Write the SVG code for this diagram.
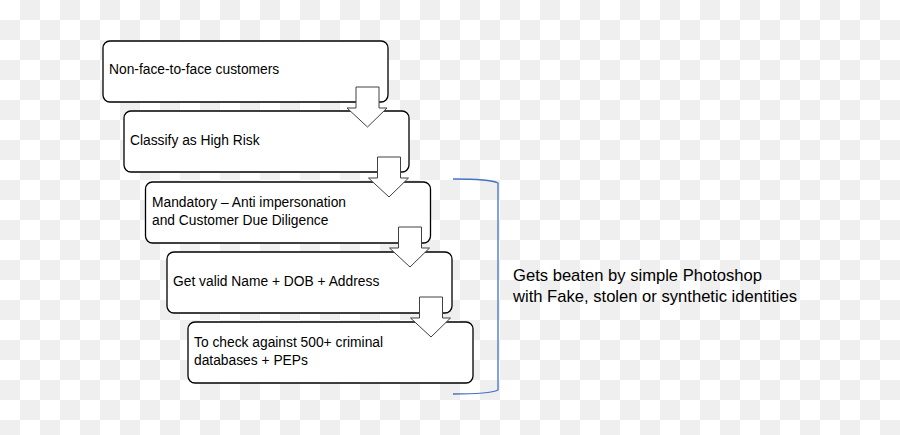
<svg xmlns="http://www.w3.org/2000/svg" width="900" height="435" viewBox="0 0 900 435">
  <defs>
    <pattern id="checker" x="0" y="0" width="40" height="40" patternUnits="userSpaceOnUse">
      <rect x="0" y="0" width="40" height="40" fill="#ffffff"/>
      <rect x="20" y="0" width="20" height="20" fill="#efefef"/>
      <rect x="0" y="20" width="20" height="20" fill="#efefef"/>
    </pattern>
    <style>
      .box { fill: #ffffff; stroke: #000000; stroke-width: 1.3; }
      .lbl { font-family: "Liberation Sans", Arial, sans-serif; font-size: 13.8px; fill: #000000; }
      .note { font-family: "Liberation Sans", Arial, sans-serif; font-size: 16.6px; fill: #000000; }
      .arrow { fill: #ffffff; stroke: #404040; stroke-width: 1; stroke-linejoin: miter; }
      .bracket { fill: none; stroke: #4472C4; stroke-width: 1.3; }
    </style>
    <path id="blockArrow" d="M0,0 H23 V21 H31 L11.5,40 L-9,21 H0 Z"/>
  </defs>

  <rect x="0" y="0" width="900" height="435" fill="url(#checker)"/>

  <g id="node-non-face">
    <rect class="box" x="103" y="41" width="285" height="61" rx="7"/>
    <text class="lbl" x="109" y="74">Non-face-to-face customers</text>
  </g>
  <g id="node-high-risk">
    <rect class="box" x="124" y="111" width="285" height="61" rx="7"/>
    <text class="lbl" x="130" y="145">Classify as High Risk</text>
  </g>
  <g id="node-mandatory">
    <rect class="box" x="145.5" y="182" width="285" height="61" rx="7"/>
    <text class="lbl" x="152" y="207">Mandatory – Anti impersonation</text>
    <text class="lbl" x="152" y="225">and Customer Due Diligence</text>
  </g>
  <g id="node-valid-name">
    <rect class="box" x="167" y="252" width="285" height="61" rx="7"/>
    <text class="lbl" x="173" y="286">Get valid Name + DOB + Address</text>
  </g>
  <g id="node-check">
    <rect class="box" x="188" y="322" width="285" height="61" rx="7"/>
    <text class="lbl" x="194" y="347">To check against 500+ criminal</text>
    <text class="lbl" x="194" y="365">databases + PEPs</text>
  </g>

  <g id="connectors">
    <use href="#blockArrow" class="arrow" transform="translate(356,87)"/>
    <use href="#blockArrow" class="arrow" transform="translate(377.5,157)"/>
    <use href="#blockArrow" class="arrow" transform="translate(398.5,227)"/>
    <use href="#blockArrow" class="arrow" transform="translate(419.5,297)"/>
  </g>

  <g id="note">
    <path class="bracket" d="M453,179 Q490,179 498,183 V390 Q490,394 453,394"/>
    <text class="note" x="513" y="281">Gets beaten by simple Photoshop</text>
    <text class="note" x="513" y="302">with Fake, stolen or synthetic identities</text>
  </g>
</svg>
